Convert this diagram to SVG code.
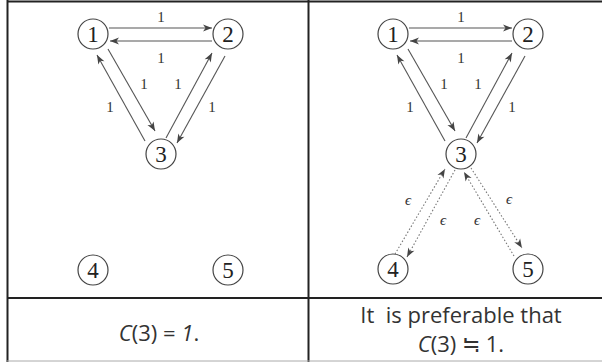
<svg xmlns="http://www.w3.org/2000/svg" width="602" height="362" viewBox="0 0 602 362">
<style>
circle.n{fill:#fff;stroke:#444;stroke-width:1.2}
.e{stroke:#555;stroke-width:1.1;fill:none}
.d{stroke:#777;stroke-width:1.1;fill:none;stroke-dasharray:1.5 2}
.cap{font-family:"Open Sans","Noto Sans",sans-serif;font-size:22px;fill:#333;text-anchor:middle}
.grid{stroke:#222;stroke-width:2;fill:none}
</style>
<defs>
<marker id="ah" viewBox="-10 -5 12 10" refX="0" refY="0" markerWidth="12" markerHeight="10" markerUnits="userSpaceOnUse" orient="auto">
<path d="M-9,-3.5 L0,0 L-9,3.5 L-6.5,0 Z" fill="#444"/>
</marker>
</defs>
<g id="table">
<line class="grid" x1="7" y1="1.5" x2="602" y2="1.5"/>
<line class="grid" x1="7.5" y1="0" x2="7.5" y2="362"/>
<line class="grid" x1="308.5" y1="0" x2="308.5" y2="362"/>
<line class="grid" x1="7" y1="298" x2="602" y2="298"/>
<line x1="7" y1="361" x2="602" y2="361" stroke="#aaa" stroke-width="1"/>
</g>
<g id="connectors">
<line class="e" x1="109" y1="28" x2="212" y2="28" marker-end="url(#ah)"/>
<line class="e" x1="212" y1="41" x2="110" y2="41" marker-end="url(#ah)"/>
<line class="e" x1="108" y1="49" x2="155" y2="131" marker-end="url(#ah)"/>
<line class="e" x1="145" y1="141" x2="97" y2="55" marker-end="url(#ah)"/>
<line class="e" x1="166" y1="138" x2="212" y2="53" marker-end="url(#ah)"/>
<line class="e" x1="225" y1="56" x2="177" y2="143" marker-end="url(#ah)"/>
<line class="e" x1="409" y1="28" x2="512" y2="28" marker-end="url(#ah)"/>
<line class="e" x1="512" y1="41" x2="410" y2="41" marker-end="url(#ah)"/>
<line class="e" x1="408" y1="49" x2="455" y2="131" marker-end="url(#ah)"/>
<line class="e" x1="445" y1="141" x2="397" y2="55" marker-end="url(#ah)"/>
<line class="e" x1="466" y1="138" x2="512" y2="53" marker-end="url(#ah)"/>
<line class="e" x1="525" y1="56" x2="477" y2="143" marker-end="url(#ah)"/>
<line class="d" x1="395" y1="254" x2="445" y2="169" marker-end="url(#ah)"/>
<line class="d" x1="455" y1="170" x2="407" y2="257" marker-end="url(#ah)"/>
<line class="d" x1="514" y1="256" x2="464" y2="172" marker-end="url(#ah)"/>
<line class="d" x1="471" y1="168" x2="522" y2="248" marker-end="url(#ah)"/>
<g font-family="Liberation Serif, DejaVu Serif, serif" font-size="15" fill="#333" text-anchor="middle">
<text x="161" y="22">1</text>
<text x="161" y="63">1</text>
<text x="144" y="89">1</text>
<text x="110" y="112">1</text>
<text x="178" y="89">1</text>
<text x="212" y="112">1</text>
<text x="461" y="22">1</text>
<text x="461" y="63">1</text>
<text x="444" y="89">1</text>
<text x="410" y="112">1</text>
<text x="478" y="89">1</text>
<text x="512" y="112">1</text>
<g font-style="italic">
<text x="408" y="205">ϵ</text>
<text x="443" y="225">ϵ</text>
<text x="477" y="225">ϵ</text>
<text x="509" y="204">ϵ</text>
</g>
</g>
</g>
<g font-family="Liberation Serif, DejaVu Serif, serif" font-size="23" fill="#222" text-anchor="middle">
<g id="L1"><circle class="n" cx="93" cy="34" r="15"/><text x="93" y="42">1</text></g>
<g id="L2"><circle class="n" cx="228" cy="34" r="15"/><text x="228" y="42">2</text></g>
<g id="L3"><circle class="n" cx="161" cy="154" r="15"/><text x="161" y="162">3</text></g>
<g id="L4"><circle class="n" cx="93" cy="270" r="15"/><text x="93" y="278">4</text></g>
<g id="L5"><circle class="n" cx="228" cy="270" r="15"/><text x="228" y="278">5</text></g>
<g id="R1"><circle class="n" cx="393" cy="34" r="15"/><text x="393" y="42">1</text></g>
<g id="R2"><circle class="n" cx="528" cy="34" r="15"/><text x="528" y="42">2</text></g>
<g id="R3"><circle class="n" cx="461" cy="154" r="15"/><text x="461" y="162">3</text></g>
<g id="R4"><circle class="n" cx="393" cy="269" r="15"/><text x="393" y="277">4</text></g>
<g id="R5"><circle class="n" cx="528" cy="269" r="15"/><text x="528" y="277">5</text></g>
</g>
<g id="captions">
<text class="cap" x="159" y="341" font-size="23"><tspan font-style="italic">C</tspan>(3) = <tspan font-style="italic">1</tspan>.</text>
<text class="cap" x="461" y="323" xml:space="preserve">It  is preferable that</text>
<text class="cap" x="461" y="352"><tspan font-style="italic">C</tspan>(3) ≒ 1.</text>
</g>
</svg>
